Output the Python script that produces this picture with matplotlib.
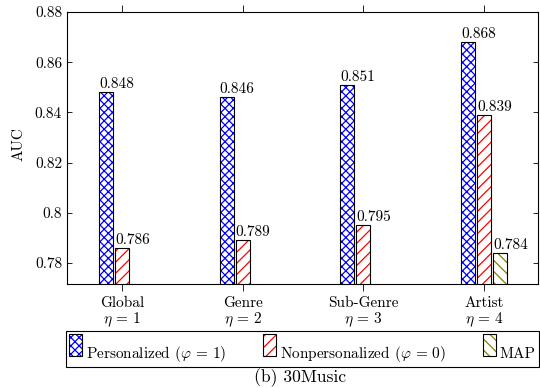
#!/usr/bin/env python3
"""AUC per hierarchy level (30Music), pgfplots-style grouped hatched bars."""

import matplotlib

matplotlib.use("Agg")
import matplotlib.pyplot as plt
import numpy as np
from matplotlib.legend_handler import HandlerBase
from matplotlib.patches import Rectangle

# ---------------------------------------------------------------------------
# Data
# ---------------------------------------------------------------------------
categories = ["Global", "Genre", "Sub-Genre", "Artist"]
eta = [1, 2, 3, 4]
personalized = [0.848, 0.846, 0.851, 0.868]
nonpersonalized = [0.786, 0.789, 0.795, 0.839]
map_auc = [None, None, None, 0.784]

y_ticks = [0.78, 0.80, 0.82, 0.84, 0.86, 0.88]
y_tick_labels = ["0.78", "0.8", "0.82", "0.84", "0.86", "0.88"]

# ---------------------------------------------------------------------------
# Style
# ---------------------------------------------------------------------------
BLUE = "#0000ff"
RED = "#ff0000"
OLIVE = "#808000"
BAR_W = 0.116
SHIFT = 0.1326
PATCH_H = 15.8  # legend swatch height (pt)
PATCH_LIFT = 1.2  # swatch bottom above text baseline (pt)

plt.rcParams.update(
    {
        "font.family": "serif",
        "font.serif": ["cmr10"],
        "mathtext.fontset": "cm",
        "axes.unicode_minus": False,
        "font.size": 11,
        "hatch.linewidth": 0.9,
    }
)


def _bars(ax, xs, vals, color, hatch):
    """Hatched fill (hatch drawn in colour) with a black outline on top."""
    fill = ax.bar(xs, vals, BAR_W, facecolor="white", edgecolor=color,
                  hatch=hatch, linewidth=0, zorder=2)
    ax.bar(xs, vals, BAR_W, fill=False, edgecolor="black", linewidth=0.8, zorder=3)
    for x, v in zip(xs, vals):
        ax.annotate(f"{v:.3f}", xy=(x - BAR_W / 2, v), xytext=(0, 2.8),
                    textcoords="offset points", ha="left", va="baseline",
                    fontsize=11)
    return fill[0]


class BarHandler(HandlerBase):
    """Tall swatch sitting on the text baseline, like pgfplots' ybar legend."""

    def legend_artist(self, legend, orig_handle, fontsize, handlebox):
        w = handlebox.width
        handlebox.ydescent = 0.0
        handlebox.height = PATCH_LIFT + PATCH_H
        fill = Rectangle((0, PATCH_LIFT), w, PATCH_H, facecolor="white",
                         edgecolor=orig_handle.get_edgecolor(),
                         hatch=orig_handle.get_hatch(), linewidth=0)
        edge = Rectangle((0, PATCH_LIFT), w, PATCH_H, fill=False,
                         edgecolor="black", linewidth=0.8)
        handlebox.add_artist(fill)
        handlebox.add_artist(edge)
        return edge


# ---------------------------------------------------------------------------
# Figure
# ---------------------------------------------------------------------------
fig = plt.figure(figsize=(5.4, 3.88), dpi=100)
ax = fig.add_axes([67 / 540, 1 - 284 / 388, 471 / 540, 272 / 388])

x = np.array(eta, dtype=float)
h_pers = _bars(ax, x - SHIFT, personalized, BLUE, "xxxx")
h_non = _bars(ax, x, nonpersonalized, RED, "///")
map_x = [xi + SHIFT for xi, v in zip(x, map_auc) if v is not None]
map_v = [v for v in map_auc if v is not None]
h_map = _bars(ax, map_x, map_v, OLIVE, "\\\\\\")

ax.set_xlim(0.544, 4.447)
ax.set_ylim(0.7716, 0.88)
ax.set_xticks(x)
ax.set_xticklabels([f"{c}\n$\\eta \\,=\\, {e}$" for c, e in zip(categories, eta)],
                   linespacing=1.1)
ax.set_yticks(y_ticks)
ax.set_yticklabels(y_tick_labels)
ax.tick_params(axis="x", direction="out", length=5, width=0.6, top=True, pad=3.5)
ax.tick_params(axis="y", direction="in", length=3.6, width=0.6, right=True, pad=3.6)
for sp in ax.spines.values():
    sp.set_linewidth(0.8)

ax.set_ylabel("AUC", fontsize=11)
ax.yaxis.set_label_coords(-0.088, 0.513)

leg = fig.legend(
    [h_pers, h_non, h_map],
    ["Personalized ($\\varphi \\,=\\, 1$)", "Nonpersonalized ($\\varphi \\,=\\, 0$)", "MAP"],
    handler_map={Rectangle: BarHandler()},
    loc="upper left",
    bbox_to_anchor=(66 / 540, 1 - 365 / 388, 473 / 540, 34 / 388),
    mode="expand",
    ncol=3,
    borderaxespad=0,
    borderpad=0.22,
    handlelength=0.85,
    handletextpad=0.26,
    columnspacing=2.3,
    fancybox=False,
    framealpha=1,
    edgecolor="black",
    fontsize=11,
)
leg.get_frame().set_linewidth(0.8)

fig.text(300.5 / 540, 1 - 382 / 388, "(b) 30Music", ha="center",
         va="baseline", fontsize=12.6)

fig.savefig("out.png", dpi=100)
plt.close(fig)
